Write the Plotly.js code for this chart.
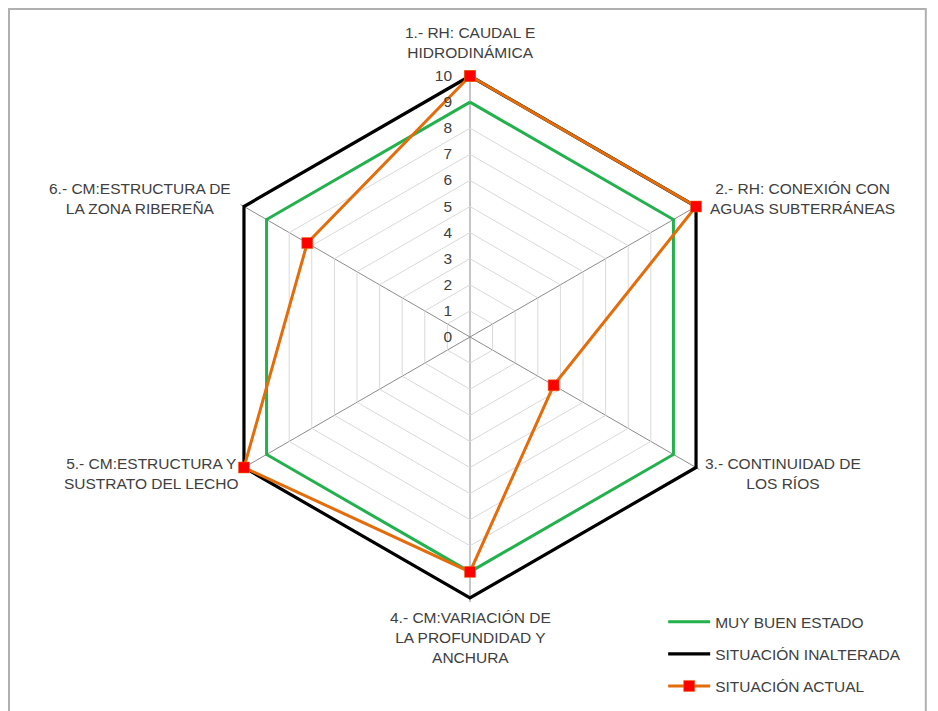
<!DOCTYPE html>
<html>
<head>
<meta charset="utf-8">
<script src="https://cdn.plot.ly/plotly-3.0.1.min.js"></script>
<style>html,body{margin:0;padding:0;background:#fff;}#chart{width:938px;height:711px;}</style>
</head>
<body>
<div id="chart"></div>
<script>
var categories = [
  "1.- RH: CAUDAL E<br>HIDRODINÁMICA",
  "2.- RH: CONEXIÓN CON<br>AGUAS SUBTERRÁNEAS",
  "3.- CONTINUIDAD DE<br>LOS RÍOS",
  "4.- CM:VARIACIÓN DE<br>LA PROFUNDIDAD Y<br>ANCHURA",
  "5.- CM:ESTRUCTURA Y<br>SUSTRATO DEL LECHO",
  "6.- CM:ESTRUCTURA DE<br>LA ZONA RIBEREÑA"
];
var muyBuenEstado = [9, 9, 9, 9, 9, 9];
var situacionInalterada = [10, 10, 10, 10, 10, 10];
var situacionActual = [10, 10, 3.7, 9, 10, 7.2];
var radialTicks = [0, 1, 2, 3, 4, 5, 6, 7, 8, 9, 10];

function closeLoop(a) { return a.concat([a[0]]); }
var theta = closeLoop(categories);

var W = 938, H = 711;
var font = "'Liberation Sans', Arial, sans-serif";
var textColor = '#404040';

// polar geometry (pixels)
var cx = 470, cy = 337, R10 = 261, rMax = 10.15;
var Rdom = R10 * rMax / 10;

// label placement around the hexagon (layout only)
var labelPlacement = [
  {dx: 0,   dy: -13, xa: 'center', ya: 'bottom'},
  {dx: 12,  dy: -8,  xa: 'left',   ya: 'middle'},
  {dx: 7,   dy: 6,   xa: 'left',   ya: 'middle'},
  {dx: 0,   dy: 9,   xa: 'center', ya: 'top'},
  {dx: -3,  dy: 6,   xa: 'right',  ya: 'middle'},
  {dx: -11, dy: -8,  xa: 'right',  ya: 'middle'}
];
var annotations = categories.map(function (c, i) {
  var ang = (90 - 60 * i) * Math.PI / 180;
  var vx = cx + R10 * Math.cos(ang), vy = cy - R10 * Math.sin(ang);
  var p = labelPlacement[i];
  return {text: c, xref: 'paper', yref: 'paper', x: (vx + p.dx) / W, y: 1 - (vy + p.dy) / H,
          xanchor: p.xa, yanchor: p.ya, align: 'center', showarrow: false,
          font: {family: font, size: 15.5, color: textColor}};
});

var traces = [
  {type: 'scatterpolar', r: closeLoop(muyBuenEstado), theta: theta, mode: 'lines', cliponaxis: false,
   name: 'MUY BUEN ESTADO', legendgroup: 'a', line: {color: '#22b14c', width: 3}},
  {type: 'scatterpolar', r: closeLoop(situacionInalterada), theta: theta, mode: 'lines', cliponaxis: false,
   name: 'SITUACIÓN INALTERADA', legendgroup: 'b', line: {color: '#000000', width: 3.2}},
  {type: 'scatterpolar', r: closeLoop(situacionActual), theta: theta, mode: 'lines+markers', cliponaxis: false,
   name: 'SITUACIÓN ACTUAL', legendgroup: 'c', line: {color: '#e46c0a', width: 3},
   marker: {symbol: 'square', size: 11, color: '#ff0000', line: {color: '#e46c0a', width: 0.5}}}
];

var layout = {
  width: W, height: H,
  margin: {l: 0, r: 0, t: 0, b: 0},
  paper_bgcolor: '#ffffff',
  font: {family: font, size: 15.5, color: textColor},
  showlegend: true,
  legend: {x: 0.707, y: 0.149, xanchor: 'left', yanchor: 'top', bgcolor: 'rgba(0,0,0,0)',
           font: {family: font, size: 15.5, color: textColor}, tracegroupgap: 9, itemwidth: 42},
  polar: {
    domain: {x: [(cx - Rdom) / W, (cx + Rdom) / W], y: [1 - (cy + Rdom) / H, 1 - (cy - Rdom) / H]},
    bgcolor: '#ffffff',
    gridshape: 'linear',
    angularaxis: {rotation: 90, direction: 'clockwise', showline: false, showticklabels: false,
                  gridcolor: '#8c8c8c', gridwidth: 1, ticks: ''},
    radialaxis: {range: [0, rMax], tickvals: radialTicks, ticktext: radialTicks.map(String),
                 angle: 90, tickangle: 90, showline: false, ticks: 'outside', ticklen: 12,
                 tickcolor: 'rgba(0,0,0,0)', side: 'counterclockwise',
                 gridcolor: '#d9d9d9', gridwidth: 1, tickfont: {size: 15.5, color: textColor}}
  },
  annotations: annotations,
  shapes: [{type: 'rect', xref: 'paper', yref: 'paper', x0: 0.0096, x1: 0.987, y0: -0.02, y1: 0.9875,
            line: {color: '#b0b0b0', width: 2}, fillcolor: 'rgba(0,0,0,0)', layer: 'below'}]
};

Plotly.newPlot('chart', traces, layout, {displayModeBar: false});
</script>
</body>
</html>
